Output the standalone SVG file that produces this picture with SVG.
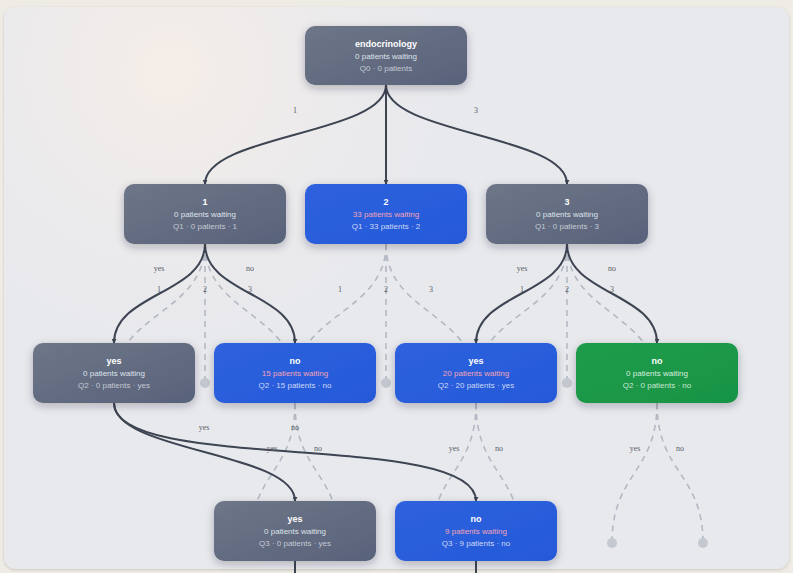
<svg xmlns="http://www.w3.org/2000/svg" width="793" height="573" viewBox="0 0 793 573">
<defs>
<radialGradient id="warm" cx="170" cy="70" r="330" gradientUnits="userSpaceOnUse">
<stop offset="0" stop-color="#f6eee8"/>
<stop offset="1" stop-color="#e8e9ed" stop-opacity="0"/>
</radialGradient>
<linearGradient id="gGrey" x1="0" y1="0" x2="1" y2="1">
<stop offset="0" stop-color="#6e7688"/>
<stop offset="1" stop-color="#58627a"/>
</linearGradient>
<linearGradient id="gBlue" x1="0" y1="0" x2="1" y2="1">
<stop offset="0" stop-color="#2f62de"/>
<stop offset="1" stop-color="#2459d8"/>
</linearGradient>
<linearGradient id="gGreen" x1="0" y1="0" x2="1" y2="1">
<stop offset="0" stop-color="#1f9c4b"/>
<stop offset="1" stop-color="#189345"/>
</linearGradient>
<filter id="sh" x="-20%" y="-20%" width="140%" height="160%">
<feDropShadow dx="0" dy="3" stdDeviation="4" flood-color="#1e2533" flood-opacity="0.28"/>
</filter>
<filter id="panelSh" x="-5%" y="-5%" width="110%" height="110%">
<feDropShadow dx="0" dy="1" stdDeviation="1.5" flood-color="#8a8378" flood-opacity="0.35"/>
</filter>
<marker id="arr" viewBox="0 0 6 6" refX="5" refY="3" markerWidth="5" markerHeight="5" markerUnits="userSpaceOnUse" orient="auto">
<path d="M0,0 L6,3 L0,6 z" fill="#3d4452"/>
</marker>
<style>
.node rect{rx:10px;ry:10px;filter:url(#sh);}
.grey rect{fill:url(#gGrey);}
.blue rect{fill:url(#gBlue);}
.green rect{fill:url(#gGreen);}
.t{font-family:"Liberation Sans",Arial,sans-serif;font-size:9px;font-weight:bold;fill:#ffffff;text-anchor:middle;}
.s{font-family:"Liberation Sans",Arial,sans-serif;font-size:8px;fill:#dfe3ea;text-anchor:middle;}
.q{font-family:"Liberation Sans",Arial,sans-serif;font-size:8px;fill:#c4c9d4;text-anchor:middle;}
.blue .q{fill:#cdd8f6;}
.pink{fill:#f2a3b6 !important;}
.green .s{fill:#d6efdf;}
.green .q{fill:#c6e6d1;}
.solid{fill:none;stroke:#3d4452;stroke-width:2;}
.dash{fill:none;stroke:#b3b9c3;stroke-width:1.6;stroke-dasharray:6 5;}
.dot{fill:#c3c8d1;}
.lbl{font-family:"Liberation Serif","Times New Roman",serif;font-size:8px;fill:#595e68;text-anchor:middle;}
</style>
</defs>
<rect x="0" y="0" width="793" height="573" fill="#efebe5"/>
<g filter="url(#panelSh)">
<rect x="4" y="7" width="785" height="562" rx="12" fill="#e8e9ed"/>
</g>
<rect x="4" y="7" width="785" height="562" rx="12" fill="url(#warm)"/>

<g id="connectors">
<!-- ghost dashed edges -->
<path class="dash" d="M205,244 C205,313.5 114,313.5 114,383"/>
<path class="dash" d="M205,244 L205,383"/>
<path class="dash" d="M205,244 C205,313.5 295,313.5 295,383"/>
<path class="dash" d="M386,244 C386,313.5 295,313.5 295,383"/>
<path class="dash" d="M386,244 L386,383"/>
<path class="dash" d="M386,244 C386,313.5 476,313.5 476,383"/>
<path class="dash" d="M567,244 C567,313.5 476,313.5 476,383"/>
<path class="dash" d="M567,244 L567,383"/>
<path class="dash" d="M567,244 C567,313.5 657,313.5 657,383"/>
<path class="dash" d="M295,403 C295,473 250,473 250,543"/>
<path class="dash" d="M295,403 C295,473 340,473 340,543"/>
<path class="dash" d="M476,403 C476,473 431,473 431,543"/>
<path class="dash" d="M476,403 C476,473 521,473 521,543"/>
<path class="dash" d="M657,403 C657,473 612,473 612,543"/>
<path class="dash" d="M657,403 C657,473 703,473 703,543"/>
<circle class="dot" cx="205" cy="383" r="5"/>
<circle class="dot" cx="386" cy="383" r="5"/>
<circle class="dot" cx="567" cy="383" r="5"/>
<circle class="dot" cx="612" cy="543" r="5"/>
<circle class="dot" cx="703" cy="543" r="5"/>
<!-- solid edges -->
<path class="solid" marker-end="url(#arr)" d="M386,85 C386,134.5 205,134.5 205,184"/>
<path class="solid" marker-end="url(#arr)" d="M386,85 L386,184"/>
<path class="solid" marker-end="url(#arr)" d="M386,85 C386,134.5 567,134.5 567,184"/>
<path class="solid" marker-end="url(#arr)" d="M205,244 C205,293.5 114,293.5 114,343"/>
<path class="solid" marker-end="url(#arr)" d="M205,244 C205,293.5 295,293.5 295,343"/>
<path class="solid" marker-end="url(#arr)" d="M567,244 C567,293.5 476,293.5 476,343"/>
<path class="solid" marker-end="url(#arr)" d="M567,244 C567,293.5 657,293.5 657,343"/>
<path class="solid" marker-end="url(#arr)" d="M114,403 C114,452 295,452 295,501"/>
<path class="solid" marker-end="url(#arr)" d="M114,403 C114,474 476,430 476,501"/>
<path class="solid" d="M295,561 L295,573"/>
<path class="solid" d="M476,561 L476,573"/>
<!-- labels -->
<text class="lbl" x="295" y="113">1</text>
<text class="lbl" x="476" y="113">3</text>
<text class="lbl" x="159" y="271">yes</text>
<text class="lbl" x="250" y="271">no</text>
<text class="lbl" x="159" y="292">1</text>
<text class="lbl" x="205" y="292">2</text>
<text class="lbl" x="250" y="292">3</text>
<text class="lbl" x="340" y="292">1</text>
<text class="lbl" x="386" y="292">2</text>
<text class="lbl" x="431" y="292">3</text>
<text class="lbl" x="522" y="271">yes</text>
<text class="lbl" x="612" y="271">no</text>
<text class="lbl" x="522" y="292">1</text>
<text class="lbl" x="567" y="292">2</text>
<text class="lbl" x="612" y="292">3</text>
<text class="lbl" x="204" y="430">yes</text>
<text class="lbl" x="295" y="430">no</text>
<text class="lbl" x="272" y="451">yes</text>
<text class="lbl" x="318" y="451">no</text>
<text class="lbl" x="454" y="451">yes</text>
<text class="lbl" x="499" y="451">no</text>
<text class="lbl" x="635" y="451">yes</text>
<text class="lbl" x="680" y="451">no</text>
</g>

<g id="n-root" class="node grey">
<rect x="305" y="26" width="162" height="59"/>
<text class="t" x="386" y="47">endocrinology</text>
<text class="s" x="386" y="59">0 patients waiting</text>
<text class="q" x="386" y="70.5">Q0 · 0 patients</text>
</g>
<g id="n-1" class="node grey">
<rect x="124" y="184" width="162" height="60"/>
<text class="t" x="205" y="205">1</text>
<text class="s" x="205" y="217">0 patients waiting</text>
<text class="q" x="205" y="228.5">Q1 · 0 patients · 1</text>
</g>
<g id="n-2" class="node blue">
<rect x="305" y="184" width="162" height="60"/>
<text class="t" x="386" y="205">2</text>
<text class="s pink" x="386" y="217">33 patients waiting</text>
<text class="q" x="386" y="228.5">Q1 · 33 patients · 2</text>
</g>
<g id="n-3" class="node grey">
<rect x="486" y="184" width="162" height="60"/>
<text class="t" x="567" y="205">3</text>
<text class="s" x="567" y="217">0 patients waiting</text>
<text class="q" x="567" y="228.5">Q1 · 0 patients · 3</text>
</g>
<g id="n-1-yes" class="node grey">
<rect x="33" y="343" width="162" height="60"/>
<text class="t" x="114" y="364">yes</text>
<text class="s" x="114" y="376">0 patients waiting</text>
<text class="q" x="114" y="387.5">Q2 · 0 patients · yes</text>
</g>
<g id="n-1-no" class="node blue">
<rect x="214" y="343" width="162" height="60"/>
<text class="t" x="295" y="364">no</text>
<text class="s pink" x="295" y="376">15 patients waiting</text>
<text class="q" x="295" y="387.5">Q2 · 15 patients · no</text>
</g>
<g id="n-3-yes" class="node blue">
<rect x="395" y="343" width="162" height="60"/>
<text class="t" x="476" y="364">yes</text>
<text class="s pink" x="476" y="376">20 patients waiting</text>
<text class="q" x="476" y="387.5">Q2 · 20 patients · yes</text>
</g>
<g id="n-3-no" class="node green">
<rect x="576" y="343" width="162" height="60"/>
<text class="t" x="657" y="364">no</text>
<text class="s" x="657" y="376">0 patients waiting</text>
<text class="q" x="657" y="387.5">Q2 · 0 patients · no</text>
</g>
<g id="n-yes-yes" class="node grey">
<rect x="214" y="501" width="162" height="60"/>
<text class="t" x="295" y="522">yes</text>
<text class="s" x="295" y="534">0 patients waiting</text>
<text class="q" x="295" y="545.5">Q3 · 0 patients · yes</text>
</g>
<g id="n-yes-no" class="node blue">
<rect x="395" y="501" width="162" height="60"/>
<text class="t" x="476" y="522">no</text>
<text class="s pink" x="476" y="534">9 patients waiting</text>
<text class="q" x="476" y="545.5">Q3 · 9 patients · no</text>
</g>
</svg>
